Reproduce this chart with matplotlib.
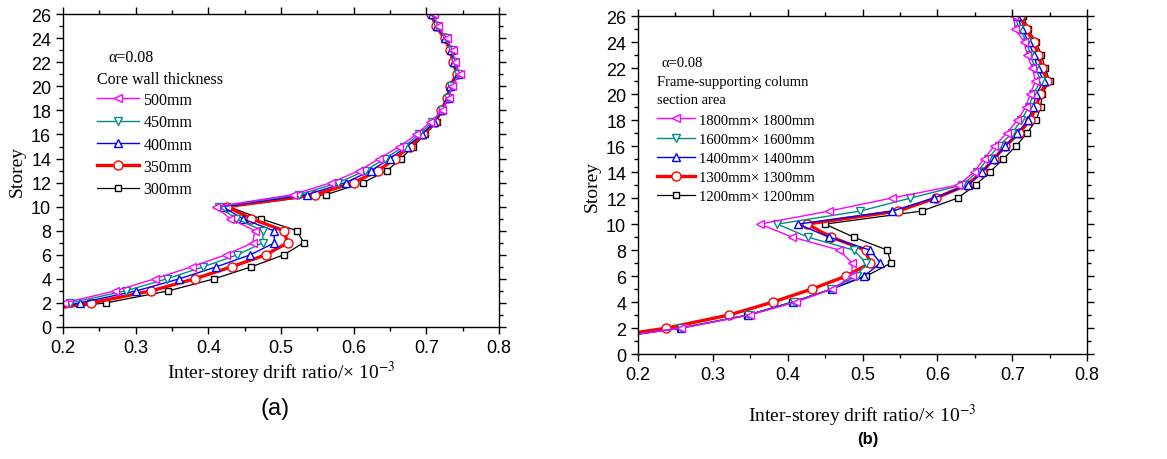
import matplotlib
matplotlib.use('Agg')
import matplotlib.pyplot as plt
import numpy as np

plt.rcParams['mathtext.fontset'] = 'stix'

storeys = np.arange(1, 27)

# (a) core wall thickness
wall_labels = ['500mm', '450mm', '400mm', '350mm', '300mm']
wall_500 = [0.150, 0.201, 0.272, 0.326, 0.377, 0.424, 0.461, 0.464, 0.430, 0.410, 0.516, 0.569, 0.608,
            0.635, 0.663, 0.686, 0.705, 0.722, 0.731, 0.735, 0.746, 0.740, 0.736, 0.728, 0.716, 0.710]
wall_450 = [0.140, 0.210, 0.286, 0.343, 0.393, 0.440, 0.475, 0.475, 0.438, 0.415, 0.525, 0.579, 0.616,
            0.643, 0.669, 0.690, 0.708, 0.721, 0.730, 0.734, 0.744, 0.739, 0.735, 0.727, 0.715, 0.709]
wall_400 = [0.135, 0.223, 0.301, 0.360, 0.411, 0.458, 0.491, 0.490, 0.447, 0.420, 0.536, 0.589, 0.624,
            0.650, 0.673, 0.694, 0.711, 0.721, 0.730, 0.733, 0.743, 0.738, 0.734, 0.726, 0.714, 0.708]
wall_350 = [0.130, 0.239, 0.321, 0.381, 0.432, 0.479, 0.509, 0.504, 0.459, 0.426, 0.547, 0.600, 0.634,
            0.657, 0.677, 0.696, 0.712, 0.720, 0.729, 0.732, 0.742, 0.737, 0.733, 0.725, 0.713, 0.707]
wall_300 = [0.110, 0.259, 0.345, 0.408, 0.459, 0.504, 0.531, 0.522, 0.472, 0.428, 0.562, 0.613, 0.646,
            0.665, 0.682, 0.698, 0.714, 0.721, 0.730, 0.733, 0.743, 0.738, 0.734, 0.726, 0.714, 0.708]

# (b) frame-supporting column section area
col_labels = ['1800mm\u00d7 1800mm', '1600mm\u00d7 1600mm', '1400mm\u00d7 1400mm',
              '1300mm\u00d7 1300mm', '1200mm\u00d7 1200mm']
col_1800 = [0.133, 0.258, 0.349, 0.411, 0.459, 0.486, 0.486, 0.469, 0.406, 0.363, 0.455, 0.539, 0.628,
            0.649, 0.662, 0.676, 0.693, 0.707, 0.718, 0.724, 0.731, 0.727, 0.720, 0.716, 0.704, 0.702]
col_1600 = [0.133, 0.257, 0.347, 0.408, 0.458, 0.492, 0.505, 0.488, 0.427, 0.386, 0.497, 0.564, 0.633,
            0.653, 0.667, 0.682, 0.700, 0.712, 0.722, 0.728, 0.738, 0.731, 0.724, 0.720, 0.709, 0.704]
col_1400 = [0.133, 0.257, 0.347, 0.407, 0.459, 0.502, 0.524, 0.510, 0.455, 0.414, 0.540, 0.595, 0.641,
            0.660, 0.675, 0.691, 0.707, 0.721, 0.728, 0.732, 0.742, 0.734, 0.729, 0.722, 0.713, 0.707]
col_1300 = [0.122, 0.238, 0.321, 0.380, 0.432, 0.478, 0.510, 0.504, 0.458, 0.426, 0.547, 0.598, 0.639,
            0.660, 0.675, 0.691, 0.709, 0.724, 0.732, 0.737, 0.747, 0.740, 0.735, 0.729, 0.718, 0.711]
col_1200 = [0.133, 0.256, 0.346, 0.406, 0.458, 0.505, 0.538, 0.533, 0.488, 0.450, 0.579, 0.627, 0.651,
            0.670, 0.688, 0.705, 0.720, 0.732, 0.738, 0.740, 0.750, 0.744, 0.739, 0.732, 0.721, 0.715]

styles = [
    dict(color='#FF00FF', marker='<', ms=6, lw=1.0),
    dict(color='#008B8B', marker='v', ms=6, lw=1.0),
    dict(color='#0000FF', marker='^', ms=6, lw=1.0),
    dict(color='#FF0000', marker='o', ms=6.5, lw=2.4),
    dict(color='#000000', marker='s', ms=4, lw=0.9),
]

serif = 'Liberation Serif'
sans = 'Liberation Sans'

fig = plt.figure(figsize=(11.67, 4.6), dpi=100)
ax1 = fig.add_axes([0.054, 0.287, 0.3736, 0.680])
ax2 = fig.add_axes([0.5467, 0.228, 0.3848, 0.735])


def draw(ax, series, labels, legend_fs, legend_anchor, spacing):
    handles = [None] * 5
    for i in reversed(range(5)):
        st = styles[i]
        handles[i], = ax.plot(series[i], storeys, color=st['color'], lw=st['lw'],
                              marker=st['marker'], ms=st['ms'], mfc='white',
                              mec=st['color'], mew=1.0, label=labels[i])
    ax.set_xlim(0.2, 0.8)
    ax.set_ylim(0, 26)
    ax.set_xticks(np.arange(0.2, 0.81, 0.1))
    ax.set_xticks(np.arange(0.2, 0.81, 0.05), minor=True)
    ax.set_yticks(np.arange(0, 27, 2))
    ax.set_yticks(np.arange(0, 27, 1), minor=True)
    ax.tick_params(which='both', direction='out', top=True, right=True, width=1.0)
    ax.tick_params(which='major', length=5, labelsize=13)
    ax.tick_params(which='minor', length=3)
    for lab in ax.get_xticklabels() + ax.get_yticklabels():
        lab.set_fontfamily(sans)
    for sp in ax.spines.values():
        sp.set_linewidth(1.0)
    ax.set_ylabel('Storey', fontfamily=serif, fontsize=14, labelpad=4)
    leg = ax.legend(handles=handles, loc='upper left', bbox_to_anchor=legend_anchor,
                    frameon=False, prop={'family': serif, 'size': legend_fs},
                    handlelength=2.6, handletextpad=0.3, labelspacing=spacing,
                    borderaxespad=0, borderpad=0)
    return leg


draw(ax1, [wall_500, wall_450, wall_400, wall_350, wall_300], wall_labels, 11.5, (0.078, 0.752), 0.40)
ax1.text(0.104, 0.863, '\u03b1=0.08', transform=ax1.transAxes, fontfamily=serif, fontsize=11.5, va='center')
ax1.text(0.078, 0.792, 'Core wall thickness', transform=ax1.transAxes, fontfamily=serif, fontsize=11.5,
         va='center')
ax1.set_xlabel('Inter-storey drift ratio/\u00d7 10$^{-3}$', fontfamily=serif, fontsize=14, labelpad=2)
fig.text(0.236, 0.11, '(a)', fontfamily=['Liberation Sans Narrow', sans], fontsize=17, ha='center',
         va='center')

draw(ax2, [col_1800, col_1600, col_1400, col_1300, col_1200], col_labels, 10.5, (0.042, 0.712), 0.40)
ax2.text(0.052, 0.862, '\u03b1=0.08', transform=ax2.transAxes, fontfamily=serif, fontsize=10.5, va='center')
ax2.text(0.042, 0.806, 'Frame-supporting column', transform=ax2.transAxes, fontfamily=serif,
         fontsize=10.5, va='center')
ax2.text(0.042, 0.752, 'section area', transform=ax2.transAxes, fontfamily=serif, fontsize=10.5,
         va='center')
ax2.set_xlabel('Inter-storey drift ratio/\u00d7 10$^{-3}$', fontfamily=serif, fontsize=14, labelpad=14)
fig.text(0.744, 0.045, '(b)', fontfamily=sans, fontweight='bold', fontsize=12, ha='center', va='center')

fig.savefig('out.png', dpi=100)
